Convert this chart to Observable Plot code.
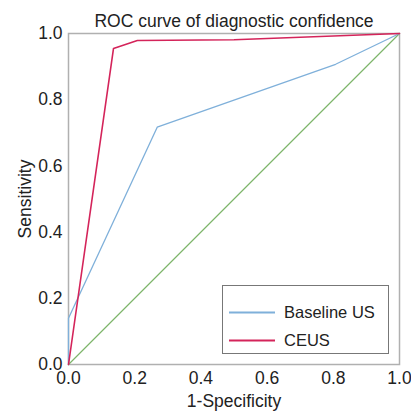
<!DOCTYPE html>
<html><head><meta charset="utf-8">
<script src="https://cdn.jsdelivr.net/npm/d3@7"></script>
<script src="https://cdn.jsdelivr.net/npm/@observablehq/plot@0.6"></script>
<style>
body{margin:0;background:#fff;font-family:"Liberation Sans",Arial,sans-serif;}
#wrap{position:relative;width:411px;height:411px;}
#legend{position:absolute;left:222px;top:285px;width:167px;height:69px;border:1.3px solid #777;background:#fff;box-sizing:border-box;font-size:16.5px;color:#222;}
.row{position:absolute;left:6px;display:flex;align-items:center;}
.sw{width:46px;height:2px;margin-right:9px;}
</style></head>
<body><div id="wrap"></div>
<script>
const baselineFpr = [0, 0, 0.268, 0.807, 1];
const baselineTpr = [0, 0.14, 0.717, 0.907, 1];
const ceusFpr = [0, 0.136, 0.208, 0.50, 1];
const ceusTpr = [0, 0.955, 0.979, 0.981, 1];
const refFpr = [0, 1];
const refTpr = [0, 1];
const seriesNames = ["Baseline US", "CEUS"];
const seriesColors = ["#7fb0da", "#d4245a"];
const ticks = [0, 0.2, 0.4, 0.6, 0.8, 1.0];

const toRows = (xs, ys) => xs.map((x, i) => ({x, y: ys[i]}));

const plot = Plot.plot({
  width: 411, height: 411,
  marginLeft: 68, marginRight: 12, marginTop: 33, marginBottom: 47,
  style: {fontFamily: "Liberation Sans, Arial, sans-serif", fontSize: "17.5px", color: "#222"},
  x: {domain: [0, 1], ticks, tickFormat: d3.format(".1f"), tickSize: 0, tickPadding: 7, label: "1-Specificity", labelAnchor: "center", labelOffset: 42, labelArrow: "none"},
  y: {domain: [0, 1], ticks, tickFormat: d3.format(".1f"), tickSize: 0, tickPadding: 6, label: "Sensitivity", labelAnchor: "center", labelOffset: 50, labelArrow: "none"},
  marks: [
    Plot.frame({stroke: "#b0b0b0", strokeWidth: 1.5}),
    Plot.line(toRows(refFpr, refTpr), {x: "x", y: "y", stroke: "#7db56a", strokeWidth: 1.2}),
    Plot.line(toRows(baselineFpr, baselineTpr), {x: "x", y: "y", stroke: seriesColors[0], strokeWidth: 1.3}),
    Plot.line(toRows(ceusFpr, ceusTpr), {x: "x", y: "y", stroke: seriesColors[1], strokeWidth: 1.6}),
    Plot.text(["ROC curve of diagnostic confidence"], {frameAnchor: "top", dy: -19, fontSize: 17.5, fill: "#222"})
  ]
});
const wrap = document.getElementById("wrap");
wrap.appendChild(plot);
const leg = document.createElement("div");
leg.id = "legend";
seriesNames.forEach((n, i) => {
  const r = document.createElement("div");
  r.className = "row";
  r.style.top = (i === 0 ? 26 : 54) + "px";
  r.style.transform = "translateY(-50%)";
  r.innerHTML = `<span class="sw" style="background:${seriesColors[i]}"></span><span>${n}</span>`;
  leg.appendChild(r);
});
wrap.appendChild(leg);
</script></body></html>
